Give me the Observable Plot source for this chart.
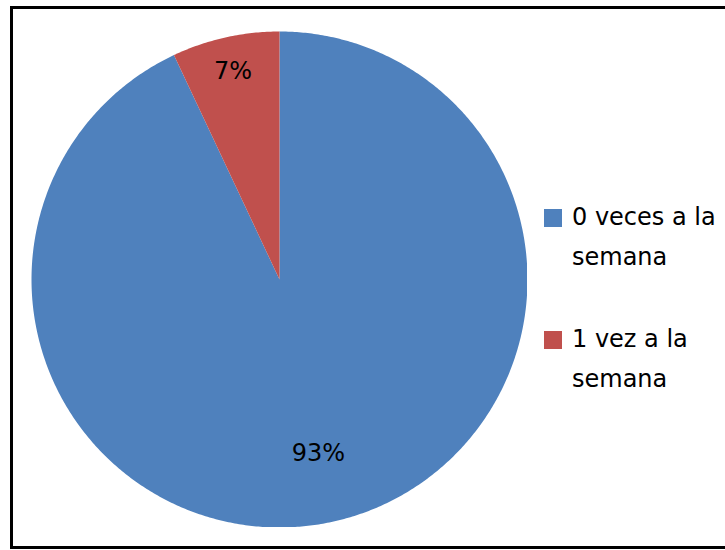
<!DOCTYPE html>
<html>
<head>
<meta charset="utf-8">
<script src="https://cdn.jsdelivr.net/npm/d3@7"></script>
<script src="https://cdn.jsdelivr.net/npm/@observablehq/plot@0.6"></script>
<style>
  body { margin: 0; background: #fff; width: 725px; height: 550px; overflow: hidden; position: relative; font-family: "DejaVu Sans", sans-serif; }
  #frame { position: absolute; left: 10px; top: 6px; width: 740px; height: 543px; border: 3px solid #000; box-sizing: border-box; }
  #chart { position: absolute; left: 31px; top: 31px; }
  #legend { position: absolute; left: 544px; top: 197px; font-size: 24px; line-height: 40px; color: #000; }
  .item { display: flex; align-items: flex-start; margin-bottom: 42px; }
  .sw { width: 18px; height: 18px; margin-top: 12px; margin-right: 10px; flex: none; }
</style>
</head>
<body>
<div id="frame"></div>
<div id="chart"></div>
<div id="legend"></div>
<script>
const categories = ["0 veces a la semana", "1 vez a la semana"];
const legendLines = [["0 veces a la", "semana"], ["1 vez a la", "semana"]];
const values = [93, 7];
const valueLabels = ["93%", "7%"];
const colors = ["#4F81BD", "#C0504D"];

const rows = categories.map((c, i) => ({category: c, value: values[i], label: valueLabels[i]}));
const arcs = d3.pie().sort(null).value(d => d.value)(rows);

// polygon points for each slice (angles clockwise from 12 o'clock)
const pts = [];
arcs.forEach(a => {
  const n = Math.max(2, Math.ceil((a.endAngle - a.startAngle) / (Math.PI / 360)));
  pts.push({category: a.data.category, x: 0, y: 0});
  for (let k = 0; k <= n; k++) {
    const t = a.startAngle + (a.endAngle - a.startAngle) * k / n;
    pts.push({category: a.data.category, x: Math.sin(t), y: Math.cos(t)});
  }
});

const labelPts = arcs.map(a => {
  const mid = (a.startAngle + a.endAngle) / 2;
  const share = (a.endAngle - a.startAngle) / (2 * Math.PI);
  const r = share > 0.5 ? 0.72 : 0.86;
  return {text: a.data.label, x: r * Math.sin(mid), y: r * Math.cos(mid)};
});

const size = 496;
const chart = Plot.plot({
  width: size,
  height: size,
  margin: 0,
  x: {domain: [-1, 1], axis: null},
  y: {domain: [-1, 1], axis: null},
  color: {domain: categories, range: colors},
  style: {background: "transparent"},
  marks: [
    Plot.line(pts, {x: "x", y: "y", z: "category", fill: "category", stroke: null, curve: "linear-closed"}),
    Plot.text(labelPts, {x: "x", y: "y", text: "text", fill: "#000", fontSize: 24, fontFamily: "DejaVu Sans"})
  ]
});
document.getElementById("chart").appendChild(chart);

const legend = document.getElementById("legend");
categories.forEach((c, i) => {
  const item = document.createElement("div");
  item.className = "item";
  const sw = document.createElement("div");
  sw.className = "sw";
  sw.style.background = colors[i];
  const txt = document.createElement("div");
  txt.innerHTML = legendLines[i].join("<br>");
  item.appendChild(sw);
  item.appendChild(txt);
  legend.appendChild(item);
});
</script>
</body>
</html>
